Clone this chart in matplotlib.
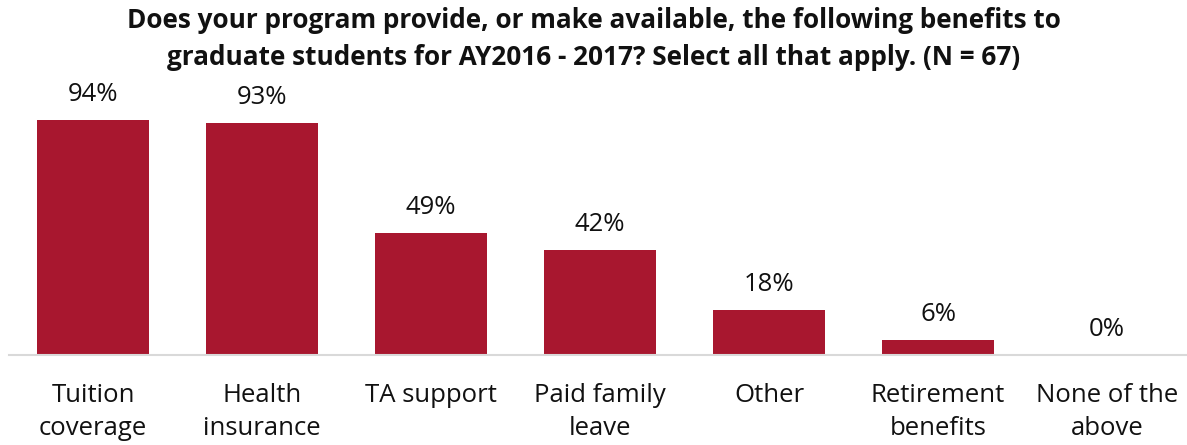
import matplotlib.pyplot as plt
import numpy as np

plt.rcParams['font.family'] = ['Open Sans', 'DejaVu Sans']

# survey responses, percent of programs (N = 67)
benefits = ['Tuition\ncoverage', 'Health\ninsurance', 'TA support', 'Paid family\nleave',
            'Other', 'Retirement\nbenefits', 'None of the\nabove']
percents = [94, 93, 49, 42, 18, 6, 0]

bar_color = '#A8172F'

fig = plt.figure(figsize=(11.87, 4.45), dpi=100)
ax = fig.add_axes([0.0072, 0.2022, 0.9966, 0.5618])

x = np.arange(len(benefits))
bars = ax.bar(x, percents, width=0.66, color=bar_color)

for b, p in zip(bars, percents):
    ax.annotate(str(p) + '%', (b.get_x() + b.get_width() / 2, p),
                xytext=(0, 19), textcoords='offset pixels',
                ha='center', va='baseline', fontsize=18.5, color='#111111')

ax.set_xlim(-0.5, len(benefits) - 0.5)
ax.set_ylim(0, 100)
ax.set_xticks(x)
ax.set_xticklabels(benefits, fontsize=18.5, color='#111111', linespacing=1.45)
ax.tick_params(axis='x', length=0, pad=20)
ax.set_yticks([])
for side in ['top', 'right', 'left']:
    ax.spines[side].set_visible(False)
ax.spines['bottom'].set_color('#D9D9D9')
ax.spines['bottom'].set_linewidth(1.5)

fig.text(0.5, 0.985, 'Does your program provide, or make available, the following benefits to\n'
         'graduate students for AY2016 - 2017? Select all that apply. (N = 67)',
         ha='center', va='top', fontsize=18.8, fontweight='bold', color='#111111', linespacing=1.5)

plt.savefig('out.png', dpi=100)
